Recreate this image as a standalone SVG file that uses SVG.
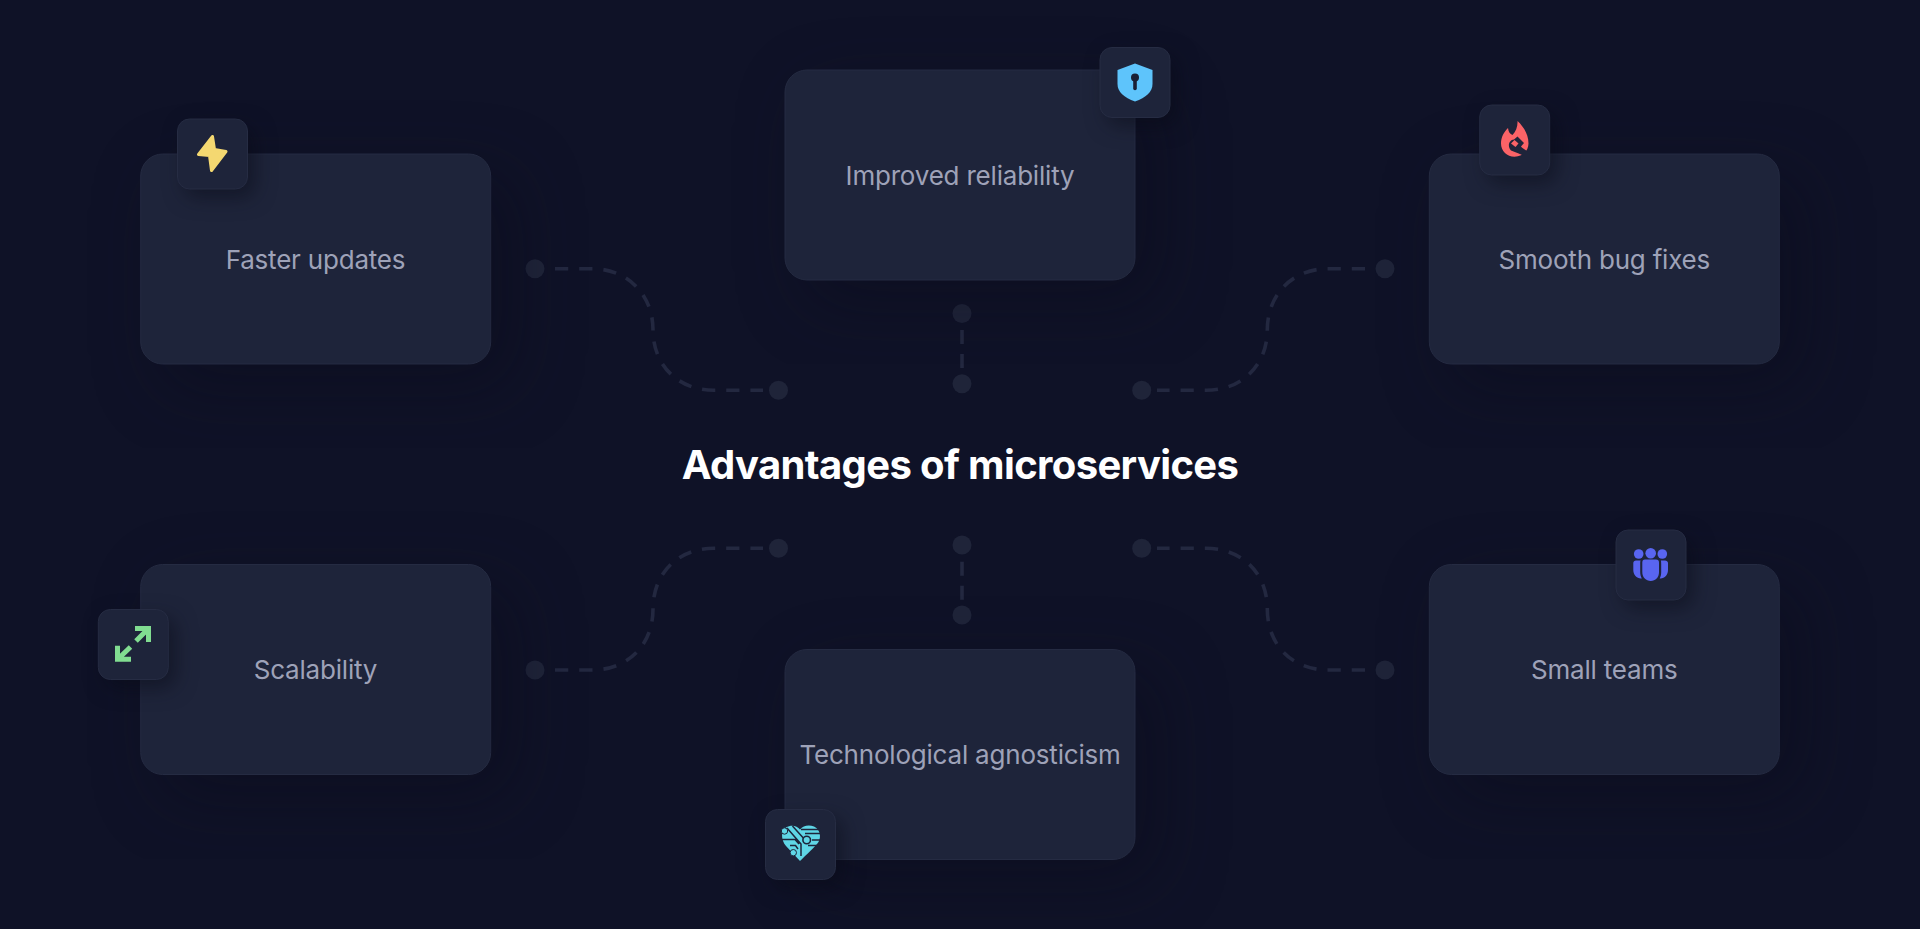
<svg xmlns="http://www.w3.org/2000/svg" width="1920" height="929" viewBox="0 0 1920 929">
<defs>
<filter id="cardShadow" x="-30%" y="-30%" width="170%" height="170%" color-interpolation-filters="sRGB"><feDropShadow dx="22" dy="22" stdDeviation="34" flood-color="#090b18" flood-opacity="0.4"/></filter>
<filter id="iconShadow" x="-60%" y="-60%" width="240%" height="240%" color-interpolation-filters="sRGB"><feDropShadow dx="7" dy="8" stdDeviation="10" flood-color="#080a15" flood-opacity="0.5"/></filter>
<style>
.card{fill:#1e243a;stroke:#252b42;stroke-width:1;filter:url(#cardShadow)}
.badge{fill:#1e243a;stroke:#262c43;stroke-width:1;filter:url(#iconShadow)}
.label{font-family:Inter,"Liberation Sans",sans-serif;font-size:26px;letter-spacing:-0.2px;fill:#9ea2b8;text-anchor:middle}
.title{font-family:Inter,"Liberation Sans",sans-serif;font-size:40px;font-weight:700;letter-spacing:-0.63px;fill:#ffffff;text-anchor:middle}
.dash{fill:none;stroke:#232840;stroke-width:3.6;stroke-dasharray:4.75 3.93}
.vdash{fill:none;stroke:#232840;stroke-width:3.6;stroke-dasharray:14 10}
.dot{fill:#1f2439}
</style>
</defs>
<rect id="background" width="1920" height="929" fill="#0f1227"/>
<g id="connectors">
<path class="dash" pathLength="100" d="M555 268.7H592C628 268.7 653 295 653 330C653 365 678 390.3 714 390.3H763"/>
<path class="dash" pathLength="100" d="M1365 268.7H1328C1292 268.7 1267.3 295 1267.3 330C1267.3 365 1242 390.3 1206 390.3H1157"/>
<path class="vdash" d="M962 330V368"/>
<path class="dash" pathLength="100" d="M555 670H592C628 670 653 645 653 609C653 573 678 548.3 714 548.3H763"/>
<path class="dash" pathLength="100" d="M1365 670H1328C1292 670 1267.3 645 1267.3 609C1267.3 573 1242 548.3 1206 548.3H1157"/>
<path class="vdash" d="M962 561.7V599.7"/>
<circle class="dot" cx="535" cy="268.7" r="9.5"/><circle class="dot" cx="778.5" cy="390.3" r="9.5"/>
<circle class="dot" cx="1385" cy="268.7" r="9.5"/><circle class="dot" cx="1141.7" cy="390.3" r="9.5"/>
<circle class="dot" cx="962" cy="313.5" r="9.5"/><circle class="dot" cx="962" cy="383.7" r="9.5"/>
<circle class="dot" cx="535" cy="670" r="9.5"/><circle class="dot" cx="778.5" cy="548.3" r="9.5"/>
<circle class="dot" cx="1385" cy="670" r="9.5"/><circle class="dot" cx="1141.7" cy="548.3" r="9.5"/>
<circle class="dot" cx="962" cy="545" r="9.5"/><circle class="dot" cx="962" cy="615" r="9.5"/>
</g>
<text id="title" class="title" x="960" y="479">Advantages of microservices</text>
<g id="node-faster-updates">
<rect class="card" x="140.7" y="154" width="350" height="210" rx="22"/>
<text class="label" x="315.5" y="268.5">Faster updates</text>
<rect class="badge" x="177.5" y="119" width="70" height="70" rx="12"/>
<path d="M212.5 136.5L198.5 154.5L209.5 155.5L211.5 170.5L226 151.5L214.5 149.5Z" fill="#f4d871" stroke="#f4d871" stroke-width="3" stroke-linejoin="round"/>
</g>
<g id="node-improved-reliability">
<rect class="card" x="785" y="70" width="350" height="210" rx="22"/>
<text class="label" x="960" y="184.5">Improved reliability</text>
<rect class="badge" x="1100" y="47.5" width="70" height="70" rx="12"/>
<path d="M1135 63.5L1152.5 70V84C1152.5 92 1146 97.5 1135 101.5C1124 97.5 1117.5 92 1117.5 84V70Z" fill="#5ec4fb"/>
<circle cx="1135" cy="77.5" r="4" fill="#1a2035"/>
<path d="M1135 78V88.5" stroke="#1a2035" stroke-width="3.6" stroke-linecap="round"/>
</g>
<g id="node-smooth-bug-fixes">
<rect class="card" x="1429.3" y="154" width="350" height="210" rx="22"/>
<text class="label" x="1604.3" y="268.5">Smooth bug fixes</text>
<rect class="badge" x="1479.7" y="105" width="70" height="70" rx="12"/>
<path d="M1517.5 121C1524 127 1528.5 135 1528.5 143.5C1528.5 151 1522 156.7 1514.5 156.7C1507 156.7 1501 151 1501 143.5C1501 137 1504 132 1508 128C1508.5 132 1510 134 1512.5 135C1516 131 1517.8 126.5 1517.5 121Z" fill="#fb6367"/>
<path d="M1511 150.5C1507 146 1509 140 1514 139.5L1517.5 136.5L1524 143L1521 146.5C1521.5 148 1526 150 1528 152L1524 156C1520 153.5 1516.5 153 1511 150.5Z" fill="#1e243a"/>
<path d="M1511 143.5L1515.5 147L1518.5 143.5L1514.5 140Z" fill="#fb6367"/>
</g>
<g id="node-scalability">
<rect class="card" x="140.7" y="564.5" width="350" height="210" rx="22"/>
<text class="label" x="315.5" y="679">Scalability</text>
<rect class="badge" x="98.3" y="609.5" width="70" height="70" rx="12"/>
<path d="M135 628.5H148.5V642M148 629L136 641M117.5 645.7V659.2H131M118 659L130.5 647" fill="none" stroke="#81dd91" stroke-width="5"/>
</g>
<g id="node-technological-agnosticism">
<rect class="card" x="785" y="649.5" width="350" height="210" rx="22"/>
<text class="label" x="960" y="764">Technological agnosticism</text>
<rect class="badge" x="765.5" y="809.5" width="70" height="70" rx="12"/>
<path d="M800 861L786 846C781 840 780.5 831 786 827.5C791 824.5 797 825.5 800 829.5C803 825.5 809 824.5 814 826.5C820 829 821.5 837 818.5 842C816 846 806 855 800 861Z" fill="#5fd6e6"/>
<path d="M787 828L801 844V856M792.5 826L806 841M782 839.5H795L799 844M790 845.5H795.5L798 849M801 829.5H821M805 833.5H821M812 840H821M808 845.5H818" fill="none" stroke="#1e243a" stroke-width="1.5"/>
<circle cx="784.5" cy="831" r="3.2" fill="#5fd6e6" stroke="#1e243a" stroke-width="1"/><circle cx="793.3" cy="852.7" r="3.2" fill="#5fd6e6" stroke="#1e243a" stroke-width="1"/>
<circle cx="806.7" cy="840" r="3.8" fill="#5fd6e6" stroke="#1e243a" stroke-width="1.6"/>
</g>
<g id="node-small-teams">
<rect class="card" x="1429.3" y="564.5" width="350" height="210" rx="22"/>
<text class="label" x="1604.3" y="679">Small teams</text>
<rect class="badge" x="1616" y="530" width="70" height="70" rx="12"/>
<g fill="#5965f0">
<circle cx="1638.7" cy="554" r="4.8"/><circle cx="1650.7" cy="553.3" r="5.3"/><circle cx="1662.3" cy="554" r="4.8"/>
<path d="M1645 559.5H1656C1658 559.5 1659 560.5 1659 562.5V572C1659 577.5 1655.5 581 1650.7 581C1646 581 1642.3 577.5 1642.3 572V562.5C1642.3 560.5 1643 559.5 1645 559.5Z"/>
<path d="M1636 560.5H1640.6C1640.2 561.5 1640.2 562.5 1640.2 564V572C1640.2 574.5 1640.8 576.5 1641.8 578.5C1637 579 1633.3 575 1633.3 570V563C1633.3 561.5 1634.5 560.5 1636 560.5Z"/>
<path d="M1665 560.5H1660.8C1661.2 561.5 1661.2 562.5 1661.2 564V572C1661.2 574.5 1660.7 576.5 1659.7 578.5C1664.5 579 1668 575 1668 570V563C1668 561.5 1666.5 560.5 1665 560.5Z"/>
</g>
</g>
</svg>
